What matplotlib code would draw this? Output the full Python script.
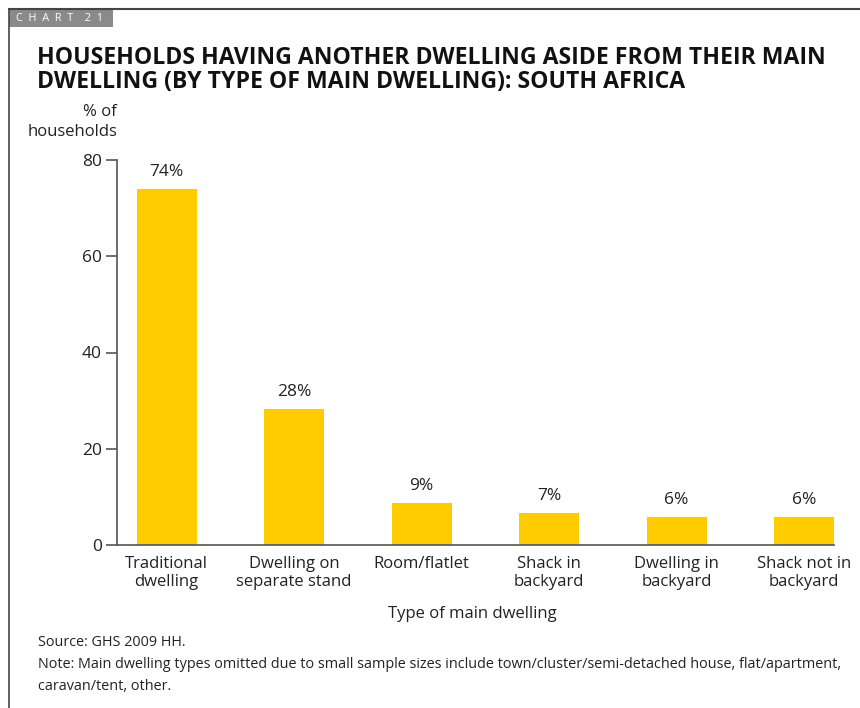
import matplotlib
matplotlib.use("Agg")
import matplotlib.pyplot as plt
from matplotlib.patches import Rectangle
from matplotlib.lines import Line2D

# data
categories = ["Traditional\ndwelling", "Dwelling on\nseparate stand", "Room/flatlet",
              "Shack in\nbackyard", "Dwelling in\nbackyard", "Shack not in\nbackyard"]
values = [73.9, 28.3, 8.7, 6.6, 5.8, 5.8]
value_labels = ["74%", "28%", "9%", "7%", "6%", "6%"]
y_ticks = [0, 20, 40, 60, 80]

BAR = "#FFCC00"
INK = "#222222"
AXIS = "#555555"

plt.rcParams["font.family"] = ["Open Sans", "DejaVu Sans"]

W, H = 860, 708
fig = plt.figure(figsize=(W / 100, H / 100), dpi=100)

def fx(px):
    return px / W

def fy(py):
    return 1 - py / H

# frame lines and chart tag
fig.add_artist(Line2D([fx(9), 1], [fy(9), fy(9)], color="#444444", lw=1.5))
fig.add_artist(Line2D([fx(9), fx(9)], [fy(9), 0], color="#444444", lw=1.2))
fig.add_artist(Rectangle((fx(9), fy(27)), fx(104), fy(10) - fy(27),
                         color="#8a8a8a", lw=0))
fig.text(fx(16), fy(18.5), "C  H  A  R  T    2  1", color="white", fontsize=7.8,
         va="center", ha="left")

fig.text(fx(37), fy(46), "HOUSEHOLDS HAVING ANOTHER DWELLING ASIDE FROM THEIR MAIN\n"
         "DWELLING (BY TYPE OF MAIN DWELLING): SOUTH AFRICA",
         fontsize=16.6, fontweight="bold", color="#111111", va="top", ha="left",
         linespacing=1.0)

ax = fig.add_axes([fx(117), fy(545), fx(834) - fx(117), fy(160) - fy(545)])
x = range(len(categories))
ax.bar(x, values, width=0.47, color=BAR, zorder=2)
for xi, v, lab in zip(x, values, value_labels):
    ax.text(xi, v + 1.9, lab, ha="center", va="bottom", fontsize=12.5, color=INK)

ax.set_xlim(-0.39, 5.235)
ax.set_ylim(0, 80)
ax.set_yticks(y_ticks)
ax.set_xticks(list(x))
ax.set_xticklabels(categories, fontsize=12, color=INK, linespacing=1.15)
ax.tick_params(axis="x", length=0, pad=8)
ax.tick_params(axis="y", length=8, width=1.2, color=AXIS, labelsize=12.5,
               labelcolor=INK, pad=3)
for s in ["top", "right"]:
    ax.spines[s].set_visible(False)
for s in ["left", "bottom"]:
    ax.spines[s].set_color(AXIS)
    ax.spines[s].set_linewidth(1.2)

fig.text(fx(117), fy(104), "% of\nhouseholds", ha="right", va="top", fontsize=12,
         color=INK, linespacing=1.3)
fig.text(fx(472), fy(614), "Type of main dwelling", ha="center", va="center",
         fontsize=12, color=INK)

fig.text(fx(38), fy(642), "Source: GHS 2009 HH.", fontsize=10.35, color=INK,
         va="center", ha="left")
fig.text(fx(38), fy(664), "Note: Main dwelling types omitted due to small sample sizes "
         "include town/cluster/semi-detached house, flat/apartment,",
         fontsize=10.35, color=INK, va="center", ha="left")
fig.text(fx(38), fy(686), "caravan/tent, other.", fontsize=10.35, color=INK,
         va="center", ha="left")

fig.savefig("out.png", dpi=100, facecolor="white")
